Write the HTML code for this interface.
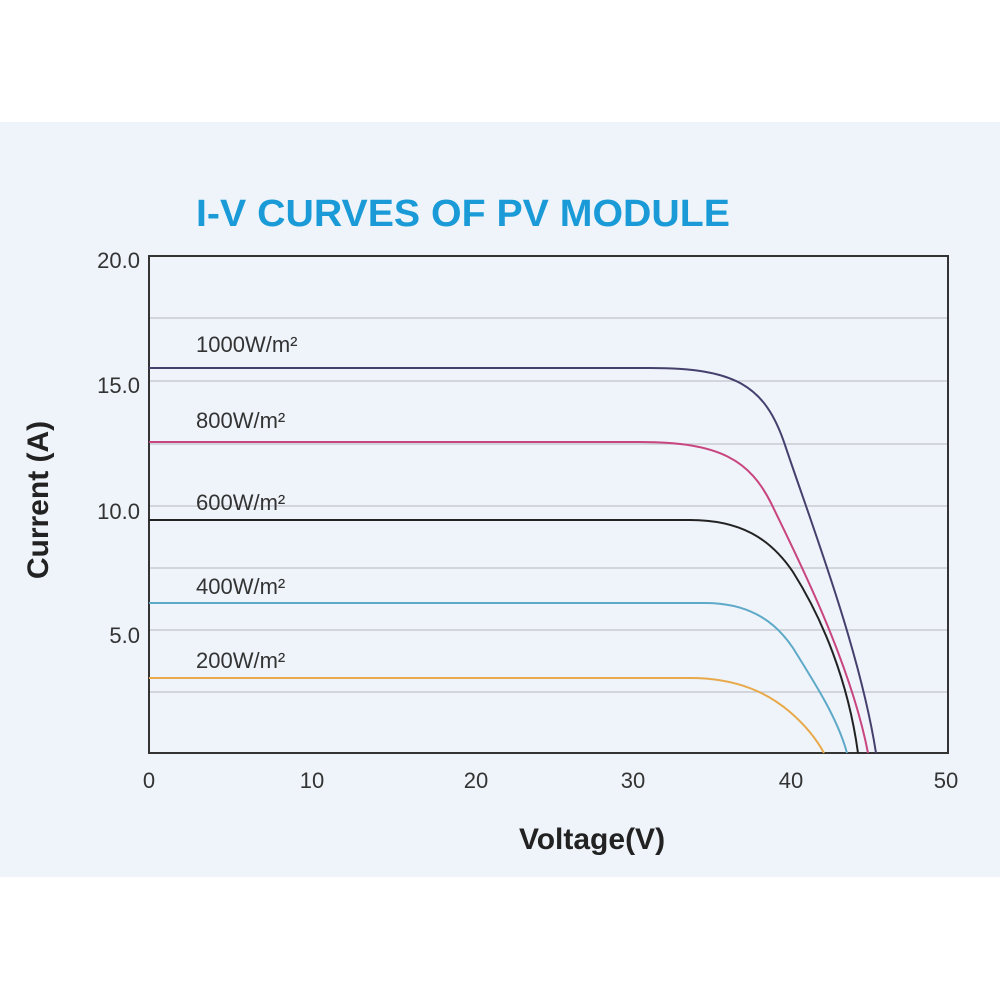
<!DOCTYPE html>
<html><head><meta charset="utf-8"><style>html,body{margin:0;padding:0;background:#fff}</style></head>
<body>
<svg width="1000" height="1000" viewBox="0 0 1000 1000" xmlns="http://www.w3.org/2000/svg" font-family="Liberation Sans, sans-serif">
<rect x="0" y="0" width="1000" height="1000" fill="#fff"/>
<rect x="0" y="122" width="1000" height="755" fill="#eff4fa"/>
<text x="196" y="226" font-size="38" font-weight="bold" fill="#1a9bd7" textLength="534" lengthAdjust="spacingAndGlyphs">I-V CURVES OF PV MODULE</text>
<g stroke="#c9ccd2" stroke-width="1.5">
<line x1="149" y1="318" x2="948" y2="318"/>
<line x1="149" y1="381" x2="948" y2="381"/>
<line x1="149" y1="444" x2="948" y2="444"/>
<line x1="149" y1="506" x2="948" y2="506"/>
<line x1="149" y1="568" x2="948" y2="568"/>
<line x1="149" y1="630" x2="948" y2="630"/>
<line x1="149" y1="692" x2="948" y2="692"/>
</g>
<rect x="149" y="256" width="799" height="497" fill="none" stroke="#333" stroke-width="2"/>
<g fill="none" stroke-width="2">
<path stroke="#45406e" d="M149,368 L650,368 C735,368 765,385 785,445 C810,520 860,650 876,753"/>
<path stroke="#c8457f" d="M149,442 L640,442 C720,442 750,460 772,505 C795,553 850,660 868,753"/>
<path stroke="#222" d="M149,520 L690,520 C740,520 770,538 793,572 C822,618 848,680 858,753"/>
<path stroke="#5fa9c8" d="M149,603 L705,603 C745,603 773,618 793,648 C818,688 838,720 847,753"/>
<path stroke="#e8a94a" d="M149,678 L690,678 C740,678 770,695 790,712 C805,725 817,740 824,753"/>
</g>
<g font-size="22" fill="#333">
<text x="196" y="352">1000W/m²</text>
<text x="196" y="428">800W/m²</text>
<text x="196" y="510">600W/m²</text>
<text x="196" y="594">400W/m²</text>
<text x="196" y="668">200W/m²</text>
<g text-anchor="end">
<text x="140" y="268">20.0</text>
<text x="140" y="393">15.0</text>
<text x="140" y="519">10.0</text>
<text x="140" y="643">5.0</text>
</g>
<g text-anchor="middle">
<text x="149" y="788">0</text>
<text x="312" y="788">10</text>
<text x="476" y="788">20</text>
<text x="633" y="788">30</text>
<text x="791" y="788">40</text>
<text x="946" y="788">50</text>
</g>
</g>
<text x="592" y="849" font-size="30" font-weight="bold" fill="#222" text-anchor="middle">Voltage(V)</text>
<text transform="translate(48,500) rotate(-90)" font-size="30" font-weight="bold" fill="#222" text-anchor="middle">Current (A)</text>
</svg>
</body></html>
